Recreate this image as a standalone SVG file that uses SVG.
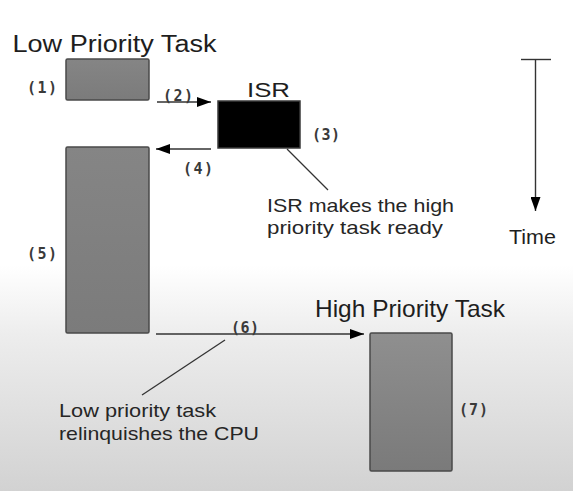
<svg xmlns="http://www.w3.org/2000/svg" width="573" height="491" viewBox="0 0 573 491">
  <defs>
    <linearGradient id="bg" x1="0" y1="0" x2="0" y2="1">
      <stop offset="0" stop-color="#ffffff"/>
      <stop offset="0.54" stop-color="#ffffff"/>
      <stop offset="0.68" stop-color="#ededed"/>
      <stop offset="1" stop-color="#d2d2d2"/>
    </linearGradient>
    <linearGradient id="boxg" x1="0" y1="0" x2="0" y2="1">
      <stop offset="0" stop-color="#858585"/>
      <stop offset="1" stop-color="#7b7b7b"/>
    </linearGradient>
    <linearGradient id="boxg7" x1="0" y1="0" x2="0" y2="1">
      <stop offset="0" stop-color="#8f8f8f"/>
      <stop offset="1" stop-color="#7a7a7a"/>
    </linearGradient>
    <marker id="ah" viewBox="0 0 14 10" refX="14" refY="5" markerWidth="14" markerHeight="10" markerUnits="userSpaceOnUse" orient="auto">
      <path d="M0,0 L14,5 L0,10 Z" fill="#000"/>
    </marker>
  </defs>
  <style>
    .task { fill: url(#boxg); stroke: #4a4a4a; stroke-width: 1.5; }
    .title { font-family: "Liberation Sans", Arial, sans-serif; fill: #1e1e1e; }
    .note { font-family: "Liberation Sans", Arial, sans-serif; font-size: 18.5px; fill: #262626; }
    .num { font-family: "DejaVu Sans Mono", "Liberation Mono", monospace; font-weight: bold; font-size: 15px; fill: #3a3a3a; }
    .conn { stroke: #333; stroke-width: 1.4; fill: none; }
    .lead { stroke: #333; stroke-width: 1.3; fill: none; }
  </style>
  <rect x="0" y="0" width="573" height="491" fill="url(#bg)"/>

  <g id="labels">
    <text class="title" x="12.5" y="52" font-size="23.5" textLength="204" lengthAdjust="spacingAndGlyphs">Low Priority Task</text>
    <text class="title" x="247" y="97" font-size="20" textLength="43" lengthAdjust="spacingAndGlyphs">ISR</text>
    <text class="title" x="315" y="317" font-size="24" textLength="190" lengthAdjust="spacingAndGlyphs">High Priority Task</text>
    <text class="title" x="509" y="244" font-size="21" textLength="47" lengthAdjust="spacingAndGlyphs">Time</text>
  </g>

  <g id="task-low-1">
    <rect class="task" x="66" y="59" width="83" height="41" rx="1.5"/>
    <text class="num" x="27" y="93" textLength="30" lengthAdjust="spacing">(1)</text>
  </g>

  <g id="isr">
    <rect x="218" y="101" width="82" height="47" fill="#000" stroke="#3a3a3a" stroke-width="1.5"/>
    <text class="num" x="312" y="140" textLength="28" lengthAdjust="spacing">(3)</text>
  </g>

  <g id="task-low-5">
    <rect class="task" x="66" y="147" width="83" height="186" rx="1.5"/>
    <text class="num" x="27" y="259" textLength="30" lengthAdjust="spacing">(5)</text>
  </g>

  <g id="task-high-7">
    <rect x="370" y="333" width="82" height="138" rx="1.5" fill="url(#boxg7)" stroke="#4a4a4a" stroke-width="1.5"/>
    <text class="num" x="459" y="415" textLength="29" lengthAdjust="spacing">(7)</text>
  </g>

  <g id="connectors">
    <line class="conn" x1="157" y1="102" x2="211" y2="102" marker-end="url(#ah)"/>
    <text class="num" x="163" y="101" textLength="30" lengthAdjust="spacing">(2)</text>
    <line class="conn" x1="211" y1="149" x2="156" y2="149" marker-end="url(#ah)"/>
    <text class="num" x="183" y="174" textLength="30" lengthAdjust="spacing">(4)</text>
    <line class="conn" x1="156" y1="334" x2="364" y2="334" marker-end="url(#ah)"/>
    <text class="num" x="231" y="333" textLength="28" lengthAdjust="spacing">(6)</text>
  </g>

  <g id="time-axis">
    <line class="conn" x1="521" y1="59.5" x2="551" y2="59.5"/>
    <line class="conn" x1="535.5" y1="59.5" x2="535.5" y2="211" marker-end="url(#ah)"/>
  </g>

  <g id="note-isr">
    <line class="lead" x1="287" y1="149" x2="328" y2="190"/>
    <text class="note" x="267" y="212" textLength="187" lengthAdjust="spacingAndGlyphs">ISR makes the high</text>
    <text class="note" x="267" y="234" textLength="176" lengthAdjust="spacingAndGlyphs">priority task ready</text>
  </g>

  <g id="note-low">
    <line class="lead" x1="225" y1="340" x2="142" y2="395"/>
    <text class="note" x="59" y="417" textLength="157" lengthAdjust="spacingAndGlyphs">Low priority task</text>
    <text class="note" x="59" y="440" textLength="200" lengthAdjust="spacingAndGlyphs">relinquishes the CPU</text>
  </g>
</svg>
